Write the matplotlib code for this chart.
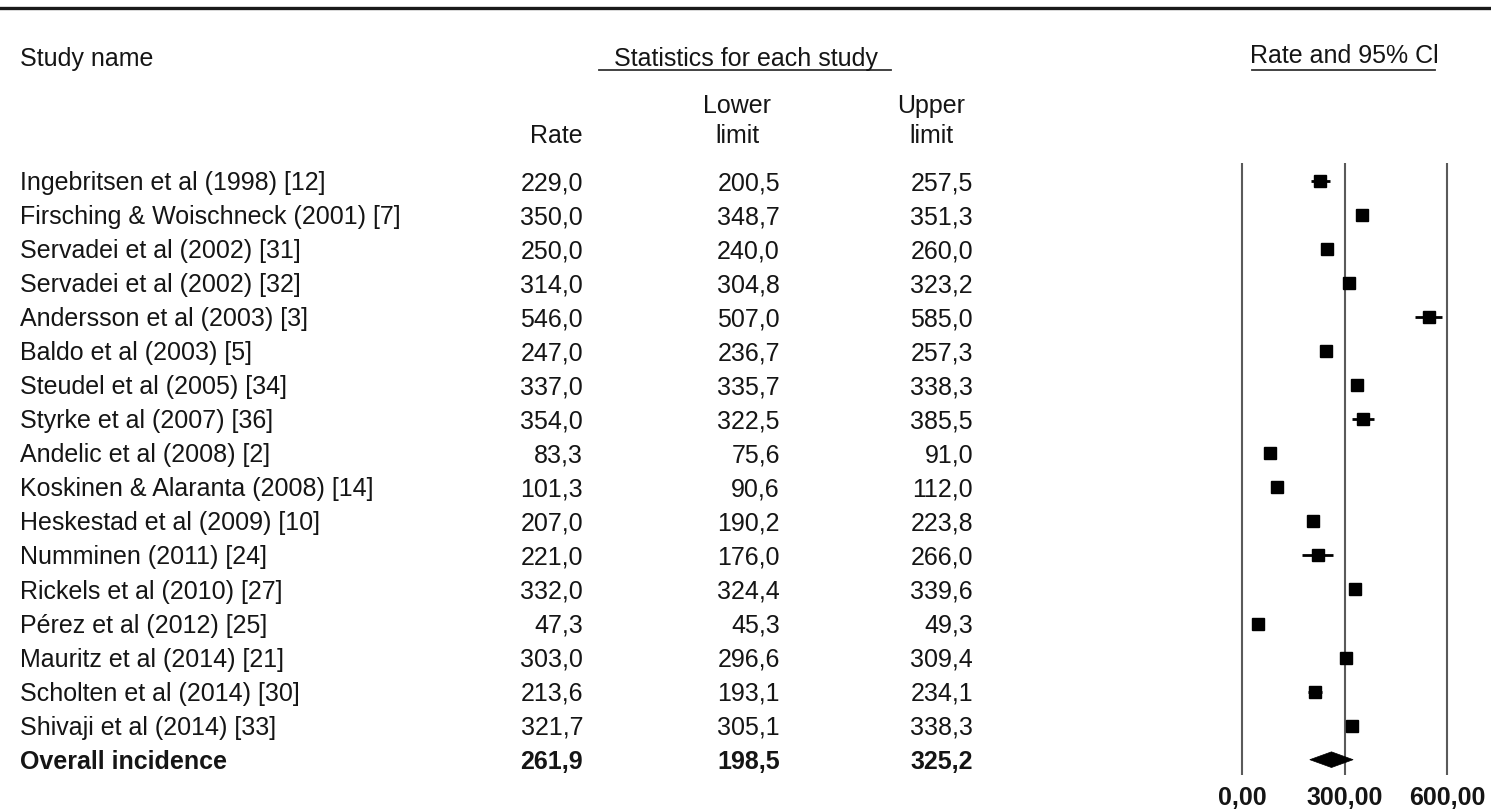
import matplotlib
matplotlib.use("Agg")
import matplotlib.pyplot as plt
from matplotlib.lines import Line2D
from matplotlib.patches import Polygon

plt.rcParams['font.family'] = ['Liberation Sans', 'DejaVu Sans']

studies = ['Ingebritsen et al (1998) [12]', 'Firsching & Woischneck (2001) [7]',
           'Servadei et al (2002) [31]', 'Servadei et al (2002) [32]',
           'Andersson et al (2003) [3]', 'Baldo et al (2003) [5]',
           'Steudel et al (2005) [34]', 'Styrke et al (2007) [36]',
           'Andelic et al (2008) [2]', 'Koskinen & Alaranta (2008) [14]',
           'Heskestad et al (2009) [10]', 'Numminen (2011) [24]',
           'Rickels et al (2010) [27]', 'Pérez et al (2012) [25]',
           'Mauritz et al (2014) [21]', 'Scholten et al (2014) [30]',
           'Shivaji et al (2014) [33]']
rate = [229.0, 350.0, 250.0, 314.0, 546.0, 247.0, 337.0, 354.0, 83.3,
        101.3, 207.0, 221.0, 332.0, 47.3, 303.0, 213.6, 321.7]
lower = [200.5, 348.7, 240.0, 304.8, 507.0, 236.7, 335.7, 322.5, 75.6,
         90.6, 190.2, 176.0, 324.4, 45.3, 296.6, 193.1, 305.1]
upper = [257.5, 351.3, 260.0, 323.2, 585.0, 257.3, 338.3, 385.5, 91.0,
         112.0, 223.8, 266.0, 339.6, 49.3, 309.4, 234.1, 338.3]

overall_label = 'Overall incidence'
overall = (261.9, 198.5, 325.2)

x_ticks = [0, 300, 600]

W, H = 1491, 811
ROW0, STEP = 181, 34.04   # pixel centre of the first row, pixels per row
FS = 18
INK = '#151515'


def fmt(v):
    return f'{v:.1f}'.replace('.', ',')


def fy(py):
    # pixel from top -> figure fraction
    return 1 - py / H


fig = plt.figure(figsize=(W / 100, H / 100), dpi=100)

# table part: x in pixels, y in row units
tab = fig.add_axes([0, 0, 1, 1])
tab.axis('off')
tab.set_xlim(0, W)
tab.set_ylim((H - ROW0) / STEP, -ROW0 / STEP)

n = len(studies)
for i in range(n):
    yb = i + 0.265
    tab.text(20, yb, studies[i], fontsize=FS, color=INK, va='baseline')
    tab.text(583, yb, fmt(rate[i]), fontsize=FS, color=INK, va='baseline', ha='right')
    tab.text(780, yb, fmt(lower[i]), fontsize=FS, color=INK, va='baseline', ha='right')
    tab.text(973, yb, fmt(upper[i]), fontsize=FS, color=INK, va='baseline', ha='right')

yb = n + 0.265
tab.text(20, yb, overall_label, fontsize=FS, color=INK, va='baseline', fontweight='bold')
for xr, v in zip([583, 780, 973], overall):
    tab.text(xr, yb, fmt(v), fontsize=FS, color=INK, va='baseline', ha='right',
             fontweight='bold')

# headers
hdr = dict(fontsize=FS, color=INK, va='baseline')
fig.text(20 / W, fy(66), 'Study name', **hdr)
fig.text(746 / W, fy(66), 'Statistics for each study', ha='center', **hdr)
fig.text(1344 / W, fy(63), 'Rate and 95% Cl', ha='center', **hdr)
fig.text(583 / W, fy(143), 'Rate', ha='right', **hdr)
fig.text(737 / W, fy(113), 'Lower', ha='center', **hdr)
fig.text(737 / W, fy(143), 'limit', ha='center', **hdr)
fig.text(931 / W, fy(113), 'Upper', ha='center', **hdr)
fig.text(931 / W, fy(143), 'limit', ha='center', **hdr)

# rules
fig.add_artist(Line2D([0, 1], [fy(8), fy(8)], transform=fig.transFigure,
                      color='#1a1a1a', lw=2.4))
fig.add_artist(Line2D([599 / W, 891 / W], [fy(70), fy(70)], transform=fig.transFigure,
                      color='#333333', lw=1.3))
fig.add_artist(Line2D([1252 / W, 1435 / W], [fy(69.5), fy(69.5)], transform=fig.transFigure,
                      color='#333333', lw=1.3))

# forest plot
top_px, bot_px = 163, 775
ax = fig.add_axes([1200 / W, 1 - bot_px / H, 291 / W, (bot_px - top_px) / H])
ppu = (1447 - 1242) / 600.0
ax.set_xlim(-(1242 - 1200) / ppu, (1491 - 1242) / ppu)
ax.set_ylim((bot_px - ROW0) / STEP, (top_px - ROW0) / STEP)
for s in ax.spines.values():
    s.set_visible(False)
ax.set_yticks([])

for xv in x_ticks:
    ax.axvline(xv, color='#5a5a5a', lw=1.5, zorder=1)

for i in range(n):
    ax.plot([lower[i], upper[i]], [i, i], color='black', lw=2.0, zorder=2,
            solid_capstyle='butt')
    ax.plot(rate[i], i, marker='s', color='black', markersize=9.3, zorder=3, lw=0)

m, lo, hi = overall
dh = 0.23
ax.add_patch(Polygon([(lo, n), (m, n - dh), (hi, n), (m, n + dh)], closed=True,
                     facecolor='black', edgecolor='black', lw=0.5, zorder=3))

ax.set_xticks(x_ticks)
ax.set_xticklabels([f'{v:.2f}'.replace('.', ',') for v in x_ticks],
                   fontsize=FS, fontweight='bold', color=INK)
ax.tick_params(axis='x', length=0, pad=8)

fig.savefig('out.png', dpi=100, facecolor='white')
